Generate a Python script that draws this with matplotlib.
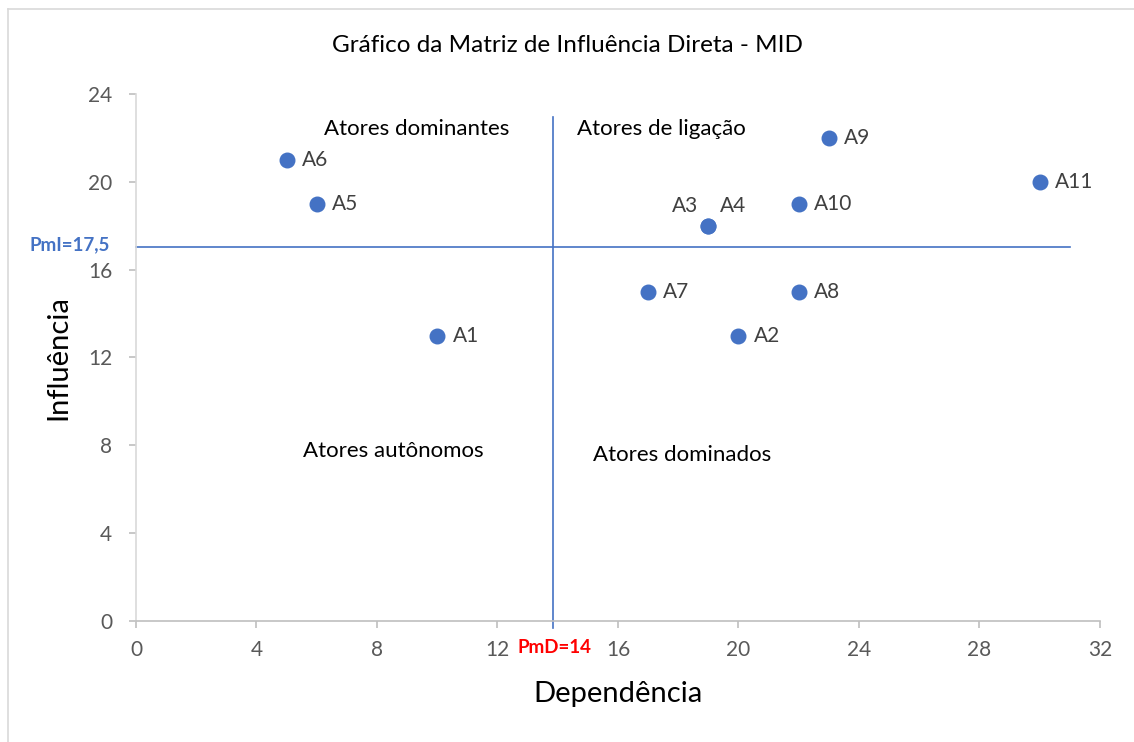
import matplotlib.pyplot as plt
from matplotlib.lines import Line2D

plt.rcParams['font.family'] = ['Lato', 'DejaVu Sans']

# dados da MID
atores = ['A1', 'A2', 'A3', 'A4', 'A5', 'A6', 'A7', 'A8', 'A9', 'A10', 'A11']
dependencia = [10, 20, 19, 19, 6, 5, 17, 22, 23, 22, 30]
influencia = [13, 13, 18, 18, 19, 21, 15, 15, 22, 19, 20]

# linhas das medias (posicao como desenhada na figura)
pmd_linha = 13.85
pmi_linha = 17.05
xticks = [0, 4, 8, 12, 16, 20, 24, 28, 32]
yticks = [0, 4, 8, 12, 16, 20, 24]

fig = plt.figure(figsize=(11.34, 7.42), dpi=100)
ax = fig.add_axes([0.1199, 0.1631, 0.970 - 0.1199, 0.8733 - 0.1631])

# moldura do grafico (so aparece em cima e a esquerda)
bx, by = 7.5 / 1134, 1 - 8.5 / 742
fig.add_artist(Line2D([bx, bx], [0, by], transform=fig.transFigure, color='#D9D9D9', linewidth=1.2))
fig.add_artist(Line2D([bx, 1], [by, by], transform=fig.transFigure, color='#D9D9D9', linewidth=1.2))

ax.scatter(dependencia, influencia, s=110, color='#4472C4', zorder=3)

for nome, x, y in zip(atores, dependencia, influencia):
    if nome == 'A3':
        ax.annotate(nome, (x, y), xytext=(-7, 7), textcoords='offset points', ha='right', va='bottom',
                    fontsize=15, color='#404040')
    elif nome == 'A4':
        ax.annotate(nome, (x, y), xytext=(8, 7), textcoords='offset points', ha='left', va='bottom',
                    fontsize=15, color='#404040')
    else:
        ax.annotate(nome, (x, y), xytext=(11, 0), textcoords='offset points', ha='left', va='center',
                    fontsize=15, color='#404040')

ax.plot([pmd_linha, pmd_linha], [-0.3, 22.95], color='#4472C4', linewidth=1.2, clip_on=False)
ax.plot([0, 31.0], [pmi_linha, pmi_linha], color='#4472C4', linewidth=1.2, clip_on=False)

ax.text(pmd_linha + 0.05, -1.23, 'PmD=14', color='red', fontweight='bold', fontsize=13.5,
        ha='center', va='center', clip_on=False)
ax.text(-0.86, pmi_linha + 0.1, 'PmI=17,5', color='#4472C4', fontweight='bold', fontsize=13.5,
        ha='right', va='center', clip_on=False)

ax.text(9.33, 22.4, 'Atores dominantes', fontsize=16, ha='center', va='center')
ax.text(17.43, 22.4, 'Atores de ligação', fontsize=16, ha='center', va='center')
ax.text(8.53, 7.74, 'Atores autônomos', fontsize=16, ha='center', va='center')
ax.text(18.12, 7.56, 'Atores dominados', fontsize=16, ha='center', va='center')

ax.set_xlim(0, 32)
ax.set_ylim(0, 24)
ax.set_xticks(xticks)
ax.set_yticks(yticks)
ax.tick_params(colors='#BFBFBF', labelcolor='#595959', labelsize=15, length=5, width=1.2)
ax.tick_params(axis='x', pad=9)
ax.tick_params(axis='y', pad=12)
for s in ['top', 'right']:
    ax.spines[s].set_visible(False)
ax.spines['left'].set_color('#D9D9D9')
ax.spines['bottom'].set_color('#BFBFBF')
ax.spines['left'].set_linewidth(1.2)
ax.spines['bottom'].set_linewidth(1.2)

ax.set_xlabel('Dependência', fontsize=21, labelpad=15)
ax.set_ylabel('Influência', fontsize=21, labelpad=12)
fig.text(0.5, 1 - 45 / 742, 'Gráfico da Matriz de Influência Direta - MID', ha='center', va='center', fontsize=17.5)

fig.savefig('out.png', dpi=100)
